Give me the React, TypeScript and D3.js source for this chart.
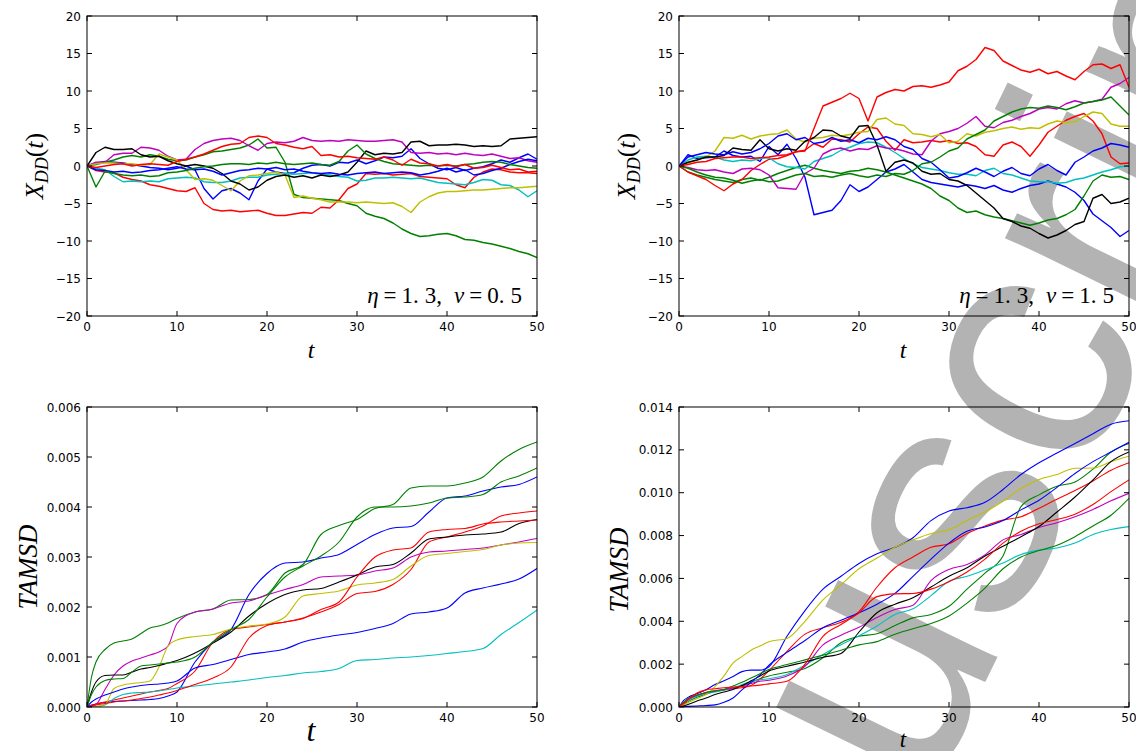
import React from 'react';
import * as d3 from 'd3';

// ---------- sampling times ----------
const TOP_T = [
  0, 1, 2, 3, 4, 5, 6, 7, 8, 9,
  10, 11, 12, 13, 14, 15, 16, 17, 18, 19,
  20, 21, 22, 23, 24, 25, 26, 27, 28, 29,
  30, 31, 32, 33, 34, 35, 36, 37, 38, 39,
  40, 41, 42, 43, 44, 45, 46, 47, 48, 49,
  50];
const BOT_T = [0, 0.5, 1, 2, 3, 4, 5, 6, 7, 8, 9, 10,
  12, 14, 16, 18, 20, 22, 24, 26, 28, 30, 32, 34, 36, 38, 40, 42, 44, 46, 48, 50];

// ---------- ticks ----------
const X_TICKS = [0, 10, 20, 30, 40, 50];
const TOP_Y_TICKS = [-20, -15, -10, -5, 0, 5, 10, 15, 20];
const BL_Y_TICKS = [0, 1, 2, 3, 4, 5, 6];          // x 1e-3
const BR_Y_TICKS = [0, 2, 4, 6, 8, 10, 12, 14];    // x 1e-3
const TAMSD_UNIT = 1e-3;

// ---------- top-left: X_DD(t), eta=1.3, nu=0.5 ----------
const TL_BLUE_1 = [0, 0.4, 0.6, 0.5, 0.4, 0.2, 0.0, -0.2, -0.3, -0.5,
  -0.3, 0.0, -0.5, -3.0, -4.4, -3.3, -3.0, -3.6, -4.5, -2.0,
  -0.4, -0.8, -1.0, -0.9, -0.3, 0.1, 0.2, 0.0, 0.5, 0.4,
  0.8, 0.3, 0.7, 1.2, 1.1, 1.3, 2.3, 1.0, 0.3, -0.3,
  -0.5, -0.2, -0.6, -0.3, -0.1, 0.3, 0.8, 0.5, 1.1, 1.6,
  0.9];
const TL_GREEN_1 = [0, 0.2, 0.5, 0.8, 1.2, 1.4, 1.2, 1.5, 1.3, 0.9,
  0.7, 0.8, 1.2, 1.5, 1.9, 2.0, 2.2, 2.4, 2.8, 3.6,
  2.4, 2.5, 0.5, -3.8, -4.2, -4.3, -4.4, -4.5, -4.6, -5.0,
  -5.3, -6.3, -6.7, -7.0, -7.6, -8.4, -9.0, -9.4, -9.3, -9.1,
  -9.0, -9.3, -9.8, -9.9, -10.2, -10.4, -10.7, -11.0, -11.4, -11.7,
  -12.2];
const TL_RED_1 = [0, -0.6, -0.8, -0.9, -1.5, -1.8, -2.0, -2.5, -2.7, -3.0,
  -3.3, -3.4, -2.9, -5.0, -5.8, -6.0, -5.9, -6.1, -6.0, -5.9,
  -6.3, -6.6, -6.6, -6.4, -6.2, -6.3, -5.5, -5.6, -4.5, -3.0,
  -2.4, -1.0, -1.1, -1.0, -1.2, -1.1, -1.0, -1.4, -1.5, -1.6,
  -1.7, -2.5, -2.9, -1.5, -0.8, -0.4, -0.5, -0.8, -0.9, -0.9,
  -1.0];
const TL_CYAN = [0, -0.3, -0.5, -1.4, -2.1, -2.0, -2.1, -2.0, -2.1, -1.7,
  -1.6, -1.5, -1.6, -2.1, -2.2, -2.2, -2.0, -1.6, -1.5, -1.5,
  -1.2, -1.1, -1.0, -1.1, -1.0, -0.9, -1.1, -1.2, -1.4, -1.5,
  -2.0, -1.9, -1.6, -1.6, -1.5, -1.6, -1.7, -1.6, -1.9, -2.2,
  -2.3, -2.4, -2.5, -2.2, -1.8, -1.9, -2.5, -2.6, -3.2, -4.1,
  -3.3];
const TL_MAGENTA = [0, 0.5, 0.5, 1.5, 1.7, 1.7, 2.5, 2.4, 2.1, 1.3,
  0.8, 0.9, 2.2, 3.0, 3.4, 3.6, 3.7, 3.4, 2.7, 2.1,
  3.0, 3.2, 3.1, 3.3, 3.8, 3.4, 3.3, 3.4, 3.3, 3.5,
  3.4, 3.3, 3.3, 3.4, 3.5, 3.2, 1.8, 1.7, 1.8, 1.6,
  1.7, 1.5, 1.7, 1.5, 1.4, 1.6, 1.3, 1.0, 1.1, 0.7,
  0.5];
const TL_YELLOW = [0, 0.3, 0.4, 0.4, 0.3, 0.3, 0.1, 0.2, 1.6, 1.2,
  0.8, -0.5, -1.8, -1.7, -1.9, -2.6, -3.3, -2.0, -1.3, -1.2,
  -1.0, -0.8, -1.2, -4.2, -4.0, -4.3, -4.5, -4.8, -4.8, -4.8,
  -4.9, -4.8, -4.9, -5.0, -4.9, -5.4, -6.2, -4.8, -4.1, -3.6,
  -3.4, -3.4, -3.3, -3.2, -3.2, -3.1, -3.0, -2.9, -2.9, -2.8,
  -2.7];
const TL_BLACK = [0, 1.8, 2.5, 2.2, 2.2, 2.3, 1.5, 1.2, 1.3, 0.7,
  0.3, 0.0, 0.2, 0.0, -0.3, -1.0, -2.0, -2.4, -3.2, -2.8,
  -1.9, -1.4, -1.2, -1.5, -1.3, -1.6, -1.2, -1.4, -1.2, -0.8,
  0.5, 2.0, 1.5, 1.7, 1.6, 1.8, 3.2, 3.3, 2.7, 2.8,
  2.8, 2.9, 2.8, 2.6, 2.7, 2.6, 2.7, 3.6, 3.7, 3.8,
  3.9];
const TL_BLUE_2 = [0, -0.5, -0.6, -0.8, -0.7, -0.9, -0.8, -0.6, -0.5, -0.3,
  -0.1, -0.4, -0.5, -0.4, -0.7, -1.2, -0.9, -0.6, -0.5, -0.3,
  -0.4, -0.2, -0.5, -0.4, -0.7, -0.9, -1.0, -0.9, -1.1, -1.2,
  -1.0, -0.9, -0.8, -1.0, -0.9, -0.8, -0.9, -1.2, -1.0, -0.7,
  -0.3, -0.8, -0.5, -1.2, -1.0, -0.6, -0.3, 0.2, 0.6, 0.9,
  0.7];
const TL_GREEN_2 = [0, -2.8, -0.7, -1.0, -1.2, -1.3, -1.2, -1.4, -1.3, -0.9,
  -0.8, -0.6, -0.3, -0.1, 0.0, 0.2, 0.3, 0.3, 0.2, 0.4,
  0.3, 0.5, 0.3, 0.2, 0.3, 0.4, 0.2, 0.1, 0.6, 2.0,
  2.8, 1.6, 1.0, 0.6, 0.3, 0.2, 0.1, 0.0, 0.1, 0.0,
  0.1, 0.0, 0.2, 0.3, 0.5, 0.6, 0.5, 0.2, 0.0, -0.2,
  -0.3];
const TL_RED_2 = [0, -0.2, 0.0, 0.2, 0.3, 0.0, 0.2, 0.3, 0.2, 0.1,
  0.6, 0.9, 1.2, 1.6, 2.1, 2.6, 2.9, 3.0, 3.8, 4.0,
  3.8, 3.0, 2.8, 2.5, 2.3, 2.6, 1.4, 1.5, 1.2, 1.3,
  1.1, 1.0, 0.9, 1.2, 0.8, 0.1, 0.9, 0.4, 0.3, 0.0,
  0.2, -0.1, 0.2, -0.3, -0.2, 0.1, -0.2, -0.5, -0.4, -0.8,
  -0.7];

// ---------- top-right: X_DD(t), eta=1.3, nu=1.5 ----------
const TR_BLUE_1 = [0, 1.5, 1.0, 1.1, 1.2, 2.0, 1.4, 1.2, 1.3, 0.6,
  2.6, 1.5, 2.9, 1.0, -1.5, -6.5, -6.2, -5.9, -4.6, -2.5,
  -3.4, -2.8, -1.8, -0.8, -0.4, 0.2, -0.8, -1.8, -2.2, -2.4,
  -2.6, -2.8, -2.5, -2.7, -3.0, -2.6, -3.2, -3.5, -3.0, -2.6,
  -2.4, -2.0, -2.4, -2.8, -3.5, -4.6, -6.4, -7.3, -8.2, -9.4,
  -8.6];
const TR_GREEN_1 = [0, -0.8, -1.2, -1.5, -1.8, -2.0, -2.2, -1.8, -1.6, -1.9,
  -1.5, -1.0, -0.6, -0.2, 0.1, -0.3, -0.6, -0.8, -1.0, -0.7,
  -0.6, -0.3, -0.5, -0.8, -1.2, -1.6, -2.0, -2.4, -3.0, -4.0,
  -4.6, -5.6, -6.2, -6.0, -6.5, -6.8, -7.0, -7.3, -7.6, -7.9,
  -7.6, -7.2, -7.0, -6.5, -5.8, -4.0, -2.0, -1.2, -1.5, -1.4,
  -1.8];
const TR_RED_1 = [0, -0.8, -1.3, -1.8, -2.6, -3.3, -2.4, -1.8, -0.6, 0.2,
  0.9, 1.0, 1.4, 1.9, 2.1, 3.0, 2.5, 3.6, 3.5, 3.2,
  4.3, 5.2, 5.0, 3.3, 2.1, 3.5, 3.1, 3.2, 3.4, 3.2,
  3.4, 3.0, 3.1, 2.6, 1.5, 1.3, 2.8, 3.2, 2.6, 1.3,
  2.8, 4.5, 5.3, 6.1, 6.6, 7.0, 6.0, 4.3, 1.2, 0.3,
  0.4];
const TR_CYAN = [0, 0.8, 1.2, 1.3, 1.2, 0.8, 0.6, 0.8, 0.7, 1.0,
  1.1, 0.3, -0.1, -0.2, -0.4, 0.6, 1.0, 1.4, 2.1, 2.5,
  3.0, 3.2, 3.1, 2.5, 1.8, 1.0, 0.3, -0.2, -0.4, -0.6,
  -0.9, -1.1, -1.1, -1.3, -0.6, -0.3, -1.0, -1.2, -1.6, -2.0,
  -2.1, -2.1, -2.3, -2.2, -1.8, -1.6, -1.2, -0.8, -0.5, -0.1,
  0.0];
const TR_MAGENTA = [0, -0.2, -0.5, -0.6, -0.5, -0.8, -1.0, -0.4, -0.3, -0.5,
  -1.2, -2.9, -3.0, -3.1, -1.0, -0.3, 1.6, 2.2, 2.4, 2.0,
  2.3, 2.2, 2.7, 2.4, 2.3, 2.0, 1.6, 1.5, 3.3, 4.3,
  4.6, 5.0, 5.7, 6.6, 5.3, 5.1, 5.8, 6.1, 6.6, 7.0,
  7.6, 7.8, 7.6, 8.3, 8.7, 8.4, 8.6, 8.9, 10.5, 11.0,
  11.8];
const TR_YELLOW = [0, 0.4, 0.8, 1.2, 2.0, 3.8, 3.7, 4.1, 3.6, 4.0,
  4.2, 4.3, 4.8, 3.6, 3.2, 3.7, 3.8, 4.1, 4.0, 4.2,
  4.5, 4.6, 6.2, 6.4, 5.6, 5.4, 4.3, 4.2, 3.9, 4.2,
  3.1, 3.3, 4.3, 4.0, 4.5, 4.7, 5.0, 5.2, 4.9, 5.1,
  5.0, 5.6, 6.0, 5.8, 5.9, 6.6, 7.2, 7.0, 5.6, 5.3,
  5.3];
const TR_BLACK = [0, 0.5, 0.8, 1.2, 1.2, 1.4, 2.4, 2.2, 2.1, 3.5,
  2.3, 2.0, 2.3, 2.1, 3.3, 3.8, 4.8, 4.7, 4.0, 3.7,
  5.3, 5.4, 2.8, -0.7, 0.5, 0.8, 0.4, -0.7, -1.1, -1.0,
  -1.8, -2.0, -2.6, -3.6, -4.6, -5.6, -7.0, -7.4, -8.0, -8.3,
  -9.0, -9.6, -9.2, -8.6, -7.8, -7.4, -4.3, -3.8, -5.0, -4.8,
  -4.3];
const TR_BLUE_2 = [0, 1.2, 1.5, 1.8, 1.6, 1.5, 1.9, 1.6, 1.8, 2.3,
  3.0, 4.0, 4.3, 3.5, 3.8, 3.0, 3.2, 3.8, 3.3, 3.5,
  3.1, 3.7, 3.5, 3.9, 3.5, 2.6, 2.2, 1.0, 0.5, -0.5,
  -1.6, -1.4, -0.9, -0.3, -0.8, -1.4, -0.7, -0.2, -1.0, -1.3,
  -0.4, 0.2, -0.6, -1.2, 0.5, 1.2, 2.0, 2.4, 3.0, 2.8,
  2.5];
const TR_GREEN_2 = [0, -0.3, -0.8, -1.2, -1.5, -1.6, -1.9, -2.3, -2.0, -1.8,
  -2.1, -2.0, -1.6, -1.2, -1.0, -1.4, -1.3, -1.5, -1.2, -1.0,
  -1.3, -1.5, -1.2, -1.4, -1.0, -1.1, -0.6, 0.3, 0.5, 1.2,
  2.0, 2.4, 3.6, 4.2, 4.8, 6.0, 6.6, 7.2, 7.6, 7.8,
  7.7, 8.0, 7.8, 7.5, 7.9, 8.4, 8.6, 8.8, 9.2, 8.0,
  6.8];
const TR_RED_2 = [0, 0.2, 0.5, 0.6, 1.0, 1.1, 1.2, 1.2, 1.0, 1.1,
  1.2, 1.4, 1.5, 1.9, 2.0, 5.0, 8.0, 8.5, 9.0, 9.7,
  9.0, 6.0, 9.2, 9.8, 10.2, 10.0, 10.6, 10.7, 10.5, 10.8,
  11.2, 12.7, 13.3, 14.2, 15.8, 15.4, 14.0, 13.4, 12.8, 12.5,
  12.9, 12.3, 12.6, 12.0, 11.5, 12.6, 13.5, 13.6, 13.0, 13.5,
  10.5];

// ---------- bottom-left: TAMSD (units of 1e-3), nu=0.5 ----------
const BL_BLUE_1 = [0, 0.04, 0.06, 0.09, 0.11, 0.12, 0.13, 0.14, 0.15, 0.17, 0.22, 0.3,
  0.9, 1.3, 1.55, 2.25, 2.67, 2.88, 2.9, 2.98, 3.05, 3.25, 3.45, 3.58, 3.61, 3.9, 4.18, 4.22, 4.32, 4.4, 4.45, 4.6];
const BL_GREEN_1 = [0, 0.6, 0.9, 1.15, 1.28, 1.32, 1.36, 1.47, 1.58, 1.62, 1.68, 1.77,
  1.9, 1.96, 2.14, 2.15, 2.25, 2.68, 2.85, 3.45, 3.63, 3.75, 3.97, 4.05, 4.38, 4.42, 4.42, 4.48, 4.6, 4.92, 5.15, 5.3];
const BL_RED_1 = [0, 0.03, 0.06, 0.1, 0.14, 0.18, 0.22, 0.26, 0.3, 0.33, 0.37, 0.47,
  0.72, 1.3, 1.55, 1.6, 1.65, 1.7, 1.78, 1.9, 2.05, 2.27, 2.31, 2.45, 2.75, 3.3, 3.4, 3.5, 3.62, 3.82, 3.88, 3.92];
const BL_CYAN = [0, 0.0, 0.01, 0.04, 0.17, 0.25, 0.28, 0.29, 0.3, 0.32, 0.35, 0.38,
  0.42, 0.46, 0.5, 0.54, 0.59, 0.63, 0.68, 0.71, 0.77, 0.93, 0.95, 0.98, 1.0, 1.03, 1.07, 1.11, 1.17, 1.45, 1.69, 1.94];
const BL_MAGENTA = [0, 0.02, 0.05, 0.35, 0.64, 0.82, 0.92, 0.98, 1.04, 1.1, 1.22, 1.67,
  1.9, 1.96, 2.08, 2.12, 2.24, 2.35, 2.45, 2.6, 2.62, 2.64, 2.72, 2.78, 3.0, 3.1, 3.12, 3.15, 3.18, 3.24, 3.3, 3.37];
const BL_YELLOW = [0, 0.0, 0.01, 0.05, 0.37, 0.44, 0.47, 0.49, 0.52, 0.8, 1.22, 1.34,
  1.41, 1.45, 1.56, 1.62, 1.66, 1.8, 2.22, 2.27, 2.32, 2.44, 2.48, 2.55, 2.82, 3.03, 3.07, 3.11, 3.15, 3.24, 3.28, 3.29];
const BL_BLACK = [0, 0.3, 0.5, 0.63, 0.64, 0.64, 0.7, 0.76, 0.79, 0.83, 0.88, 0.93,
  1.08, 1.28, 1.5, 1.82, 2.07, 2.25, 2.34, 2.37, 2.5, 2.64, 2.8, 2.85, 3.08, 3.36, 3.4, 3.44, 3.46, 3.5, 3.67, 3.75];
const BL_BLUE_2 = [0, 0.1, 0.16, 0.24, 0.3, 0.36, 0.4, 0.43, 0.45, 0.46, 0.48, 0.52,
  0.78, 0.85, 0.95, 1.05, 1.1, 1.16, 1.3, 1.38, 1.44, 1.49, 1.57, 1.67, 1.86, 1.9, 1.98, 2.28, 2.38, 2.46, 2.56, 2.77];
const BL_GREEN_2 = [0, 0.25, 0.4, 0.53, 0.56, 0.57, 0.7, 0.82, 0.84, 0.86, 0.88, 0.9,
  1.0, 1.3, 1.55, 1.75, 2.2, 2.6, 2.82, 3.02, 3.3, 3.8, 4.0, 4.0, 4.02, 4.08, 4.18, 4.2, 4.25, 4.5, 4.62, 4.78];
const BL_RED_2 = [0, 0.02, 0.04, 0.07, 0.1, 0.12, 0.14, 0.17, 0.2, 0.24, 0.28, 0.33,
  0.45, 0.58, 0.8, 1.38, 1.63, 1.7, 1.77, 1.95, 2.1, 2.6, 3.0, 3.14, 3.18, 3.5, 3.55, 3.57, 3.66, 3.7, 3.72, 3.74];

// ---------- bottom-right: TAMSD (units of 1e-3), nu=1.5 ----------
const BR_BLUE_1 = [0, 0.3, 0.45, 0.62, 0.8, 1.05, 1.22, 1.42, 1.65, 1.72, 1.72, 1.88,
  3.3, 4.5, 5.5, 6.1, 6.7, 7.15, 7.45, 7.9, 8.7, 9.15, 9.3, 9.55, 10.15, 10.85, 11.4, 11.85, 12.3, 12.75, 13.2, 13.36];
const BR_GREEN_1 = [0, 0.1, 0.25, 0.45, 0.6, 0.72, 0.8, 0.9, 1.0, 1.15, 1.32, 1.45,
  1.62, 1.8, 2.3, 3.0, 3.3, 3.42, 3.8, 4.16, 4.32, 4.7, 5.5, 6.25, 7.05, 9.35, 9.9, 10.3, 10.5, 11.1, 11.9, 12.3];
const BR_RED_1 = [0, 0.2, 0.35, 0.55, 0.68, 0.75, 0.8, 0.85, 0.9, 1.0, 1.3, 1.7,
  2.6, 3.4, 3.7, 3.95, 4.45, 5.6, 6.5, 7.0, 7.45, 7.62, 8.1, 8.45, 8.72, 8.88, 9.28, 9.7, 10.1, 10.55, 11.05, 11.4];
const BR_CYAN = [0, 0.15, 0.3, 0.5, 0.62, 0.7, 0.8, 0.88, 1.05, 1.18, 1.27, 1.32,
  1.52, 1.95, 2.45, 2.9, 3.32, 3.78, 4.32, 4.58, 5.2, 5.87, 6.1, 6.4, 6.72, 7.12, 7.32, 7.42, 7.65, 8.05, 8.28, 8.42];
const BR_MAGENTA = [0, 0.2, 0.35, 0.55, 0.66, 0.76, 0.82, 0.88, 0.98, 1.1, 1.2, 1.25,
  1.45, 1.9, 2.9, 3.35, 3.72, 4.18, 4.55, 4.75, 5.9, 6.42, 6.65, 7.1, 7.8, 8.05, 8.38, 8.6, 8.88, 9.22, 9.62, 9.97];
const BR_YELLOW = [0, 0.1, 0.2, 0.4, 0.58, 0.95, 1.45, 2.05, 2.35, 2.65, 2.85, 3.05,
  3.2, 4.0, 5.0, 5.7, 6.45, 6.95, 7.45, 7.8, 8.1, 8.27, 8.7, 9.1, 9.6, 10.2, 10.62, 10.85, 11.14, 11.15, 11.45, 11.7];
const BR_BLACK = [0, 0.05, 0.12, 0.28, 0.42, 0.58, 0.7, 0.82, 1.0, 1.22, 1.45, 1.68,
  1.9, 2.1, 2.32, 2.5, 3.5, 4.4, 4.8, 5.1, 5.6, 6.1, 6.5, 7.05, 7.5, 7.95, 8.42, 9.1, 9.8, 10.6, 11.45, 11.9];
const BR_BLUE_2 = [0, 0.02, 0.03, 0.05, 0.07, 0.1, 0.22, 0.42, 0.8, 1.15, 1.5, 1.95,
  2.55, 3.1, 3.7, 4.05, 4.4, 4.8, 5.3, 6.1, 6.9, 7.65, 8.2, 8.4, 8.7, 9.2, 9.65, 10.25, 10.9, 11.45, 11.9, 12.35];
const BR_GREEN_2 = [0, 0.2, 0.4, 0.55, 0.68, 0.75, 0.82, 0.98, 1.15, 1.35, 1.55, 1.75,
  1.98, 2.2, 2.42, 2.65, 2.9, 3.05, 3.4, 3.65, 3.9, 4.25, 4.85, 5.55, 6.45, 7.0, 7.3, 7.55, 7.95, 8.45, 8.95, 9.74];
const BR_RED_2 = [0, 0.15, 0.35, 0.65, 0.8, 0.85, 0.9, 0.93, 0.96, 0.98, 1.02, 1.08,
  1.2, 2.0, 3.3, 3.85, 4.4, 5.15, 5.28, 5.3, 5.5, 5.85, 6.3, 6.9, 7.65, 8.2, 8.55, 8.75, 9.0, 9.45, 10.05, 10.6];

// matplotlib classic colour cycle b, g, r, c, m, y, k
const COLORS = ['#0000ff', '#008000', '#ff0000', '#00bfbf', '#bf00bf', '#bfbf00', '#000000', '#0000ff', '#008000', '#ff0000'];

const TL_SERIES = [TL_BLUE_1, TL_GREEN_1, TL_RED_1, TL_CYAN, TL_MAGENTA, TL_YELLOW, TL_BLACK, TL_BLUE_2, TL_GREEN_2, TL_RED_2];
const TR_SERIES = [TR_BLUE_1, TR_GREEN_1, TR_RED_1, TR_CYAN, TR_MAGENTA, TR_YELLOW, TR_BLACK, TR_BLUE_2, TR_GREEN_2, TR_RED_2];
const BL_SERIES = [BL_BLUE_1, BL_GREEN_1, BL_RED_1, BL_CYAN, BL_MAGENTA, BL_YELLOW, BL_BLACK, BL_BLUE_2, BL_GREEN_2, BL_RED_2];
const BR_SERIES = [BR_BLUE_1, BR_GREEN_1, BR_RED_1, BR_CYAN, BR_MAGENTA, BR_YELLOW, BR_BLACK, BR_BLUE_2, BR_GREEN_2, BR_RED_2];

const TICK_FONT = 'DejaVu Sans, Verdana, sans-serif';
const MATH_FONT = 'Liberation Serif, DejaVu Serif, serif';

type PanelProps = {
  id: string;
  left: number; top: number; width: number; height: number;
  time: number[];
  series: number[][];
  yDomain: [number, number];
  yTicks: number[];
  unit: number;
  fmt: (v: number) => string;
  lineWidth: number;
  smooth: boolean;
};

function Panel(p: PanelProps) {
  const x = d3.scaleLinear().domain([0, 50]).range([p.left, p.left + p.width]);
  const y = d3.scaleLinear().domain(p.yDomain).range([p.top + p.height, p.top]);
  const line = d3.line<number>()
    .x((_, i) => x(p.time[i]))
    .y(d => y(d * p.unit))
    .curve(p.smooth ? d3.curveMonotoneX : d3.curveLinear);
  const tk = 5;
  const bottom = p.top + p.height;
  const right = p.left + p.width;
  return (
    <g>
      <defs>
        <clipPath id={p.id}>
          <rect x={p.left} y={p.top} width={p.width} height={p.height} />
        </clipPath>
      </defs>
      <g clipPath={`url(#${p.id})`}>
        {p.series.map((s, i) => (
          <path key={i} d={line(s) || ''} fill="none" stroke={COLORS[i]} strokeWidth={p.lineWidth} strokeLinejoin="round" />
        ))}
      </g>
      <rect x={p.left} y={p.top} width={p.width} height={p.height} fill="none" stroke="#000" strokeWidth={1} />
      {X_TICKS.map(t => (
        <g key={'x' + t}>
          <line x1={x(t)} x2={x(t)} y1={bottom} y2={bottom - tk} stroke="#000" />
          <line x1={x(t)} x2={x(t)} y1={p.top} y2={p.top + tk} stroke="#000" />
          <text x={x(t)} y={bottom + 15} textAnchor="middle" fontFamily={TICK_FONT} fontSize={12}>{t}</text>
        </g>
      ))}
      {p.yTicks.map(v => (
        <g key={'y' + v}>
          <line x1={p.left} x2={p.left + tk} y1={y(v * p.unit)} y2={y(v * p.unit)} stroke="#000" />
          <line x1={right} x2={right - tk} y1={y(v * p.unit)} y2={y(v * p.unit)} stroke="#000" />
          <text x={p.left - 6} y={y(v * p.unit) + 4.5} textAnchor="end" fontFamily={TICK_FONT} fontSize={12}>{p.fmt(v)}</text>
        </g>
      ))}
    </g>
  );
}

const fmtTop = (v: number) => (v < 0 ? '\u2212' + Math.abs(v) : String(v));
const fmtBot = (v: number) => (v * TAMSD_UNIT).toFixed(3);

function XddLabel({ x, y }: { x: number; y: number }) {
  return (
    <text transform={`translate(${x},${y}) rotate(-90)`} textAnchor="middle" fontFamily={MATH_FONT} fontSize={26} fontStyle="italic">
      X<tspan fontSize={18} dy={5}>DD</tspan><tspan dy={-5} fontStyle="normal">(</tspan>t<tspan fontStyle="normal">)</tspan>
    </text>
  );
}

function ParamLabel({ x, y, nu }: { x: number; y: number; nu: string }) {
  const [a, b] = nu.split('.');
  return (
    <text x={x} y={y} textAnchor="end" fontFamily={MATH_FONT} fontSize={23}>
      <tspan fontStyle="italic">η</tspan><tspan dx={5}>=</tspan><tspan dx={5}>1.</tspan><tspan dx={6}>3,</tspan>
      <tspan dx={12} fontStyle="italic">ν</tspan><tspan dx={5}>=</tspan><tspan dx={5}>{a}.</tspan><tspan dx={6}>{b}</tspan>
    </text>
  );
}

export default function App() {
  const W = 1136, H = 751;
  return (
    <svg width={W} height={H} style={{ position: 'absolute', left: 0, top: 0, background: '#fff' }}>
      <rect width={W} height={H} fill="#fff" />
      <text transform="translate(640,1390) rotate(-64)" fontFamily="Liberation Sans, Arial, sans-serif" fontSize={335} fill="#b3b3b3">Manuscript</text>

      <Panel id="tl" left={87} top={16} width={450} height={300} time={TOP_T} series={TL_SERIES}
        yDomain={[-20, 20]} yTicks={TOP_Y_TICKS} unit={1} fmt={fmtTop} lineWidth={1.4} smooth={false} />
      <Panel id="tr" left={679} top={16} width={450} height={300} time={TOP_T} series={TR_SERIES}
        yDomain={[-20, 20]} yTicks={TOP_Y_TICKS} unit={1} fmt={fmtTop} lineWidth={1.4} smooth={false} />
      <Panel id="bl" left={87} top={407} width={450} height={300} time={BOT_T} series={BL_SERIES}
        yDomain={[0, 0.006]} yTicks={BL_Y_TICKS} unit={TAMSD_UNIT} fmt={fmtBot} lineWidth={1.1} smooth={true} />
      <Panel id="br" left={679} top={407} width={450} height={300} time={BOT_T} series={BR_SERIES}
        yDomain={[0, 0.014]} yTicks={BR_Y_TICKS} unit={TAMSD_UNIT} fmt={fmtBot} lineWidth={1.1} smooth={true} />

      <XddLabel x={43} y={166} />
      <XddLabel x={635} y={166} />
      <text transform="translate(37,567) rotate(-90)" textAnchor="middle" fontFamily={MATH_FONT} fontSize={27} fontStyle="italic">TAMSD</text>
      <text transform="translate(628,570) rotate(-90)" textAnchor="middle" fontFamily={MATH_FONT} fontSize={27} fontStyle="italic">TAMSD</text>

      <text x={311} y={358} textAnchor="middle" fontFamily={MATH_FONT} fontSize={24} fontStyle="italic">t</text>
      <text x={903} y={358} textAnchor="middle" fontFamily={MATH_FONT} fontSize={24} fontStyle="italic">t</text>
      <text x={311} y={741} textAnchor="middle" fontFamily={MATH_FONT} fontSize={32} fontStyle="italic">t</text>
      <text x={903} y={747} textAnchor="middle" fontFamily={MATH_FONT} fontSize={23} fontStyle="italic">t</text>

      <ParamLabel x={522} y={303} nu="0.5" />
      <ParamLabel x={1114} y={303} nu="1.5" />
    </svg>
  );
}
